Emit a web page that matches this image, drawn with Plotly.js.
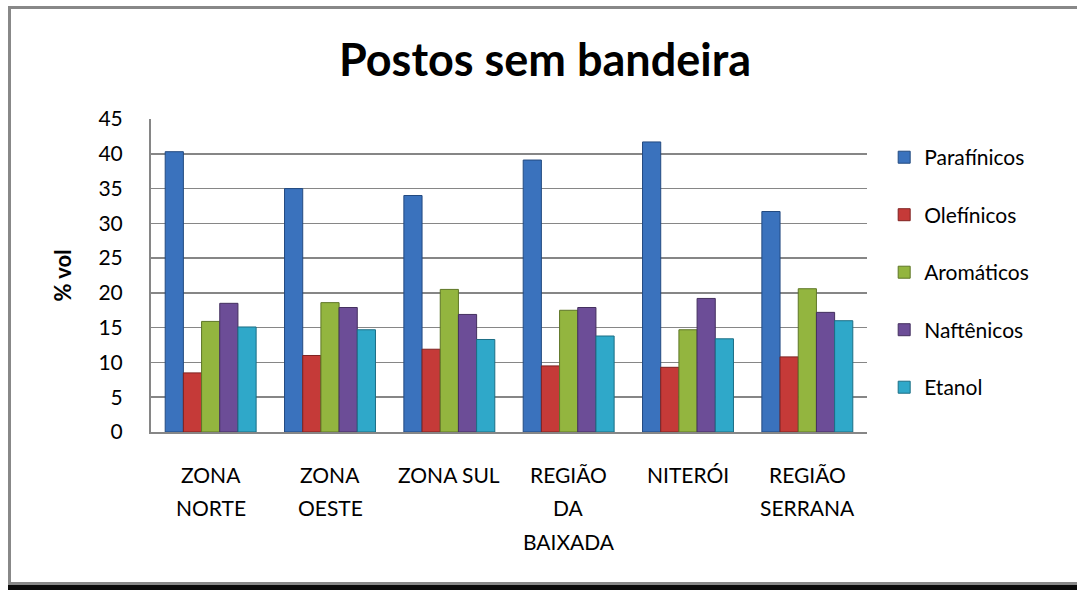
<!DOCTYPE html>
<html>
<head>
<meta charset="utf-8">
<script src="https://cdn.plot.ly/plotly-3.0.1.min.js"></script>
<style>
  html, body { margin:0; padding:0; width:1077px; height:590px; overflow:hidden; background:#fff; }
  #frame { position:absolute; left:8px; top:6px; width:1100px; border:3px solid #888; box-sizing:border-box; height:579px; }
  #shadow { position:absolute; left:8px; top:585px; width:1100px; height:10px; background:#0a0a0a; }
  #chart { position:absolute; left:0; top:0; width:1077px; height:590px; }
</style>
</head>
<body>
<div id="frame"></div>
<div id="shadow"></div>
<div id="chart"></div>
<script>
const categories = ["ZONA NORTE", "ZONA OESTE", "ZONA SUL", "REGIÃO DA BAIXADA", "NITERÓI", "REGIÃO SERRANA"];
const tickLines = [["ZONA", "NORTE"], ["ZONA", "OESTE"], ["ZONA SUL"], ["REGIÃO", "DA", "BAIXADA"], ["NITERÓI"], ["REGIÃO", "SERRANA"]];
const seriesNames = ["Parafínicos", "Olefínicos", "Aromáticos", "Naftênicos", "Etanol"];
const parafinicos = [40.3, 35.0, 34.0, 39.1, 41.7, 31.7];
const olefinicos  = [8.5, 11.0, 11.9, 9.5, 9.3, 10.8];
const aromaticos  = [15.9, 18.6, 20.5, 17.5, 14.7, 20.6];
const naftenicos  = [18.5, 17.9, 16.9, 17.9, 19.2, 17.2];
const etanol      = [15.1, 14.7, 13.3, 13.8, 13.4, 16.0];
const yTicks = [0, 5, 10, 15, 20, 25, 30, 35, 40, 45];

const seriesValues = [parafinicos, olefinicos, aromaticos, naftenicos, etanol];
const fills = ["#3a72bd", "#c53a38", "#93b53f", "#6c4d97", "#2fa8c9"];
const edges = ["#234a80", "#7f2221", "#5e7626", "#44305f", "#1c6e85"];

const font = "Lato, 'Open Sans', sans-serif";

const traces = seriesValues.map((vals, i) => ({
  type: "bar",
  name: seriesNames[i],
  x: categories,
  y: vals,
  legendgroup: "g" + i,
  marker: { color: fills[i], line: { color: edges[i], width: 1 } },
  hoverinfo: "x+y+name"
}));

const annotations = [];
tickLines.forEach((lines, ci) => {
  lines.forEach((ln, li) => {
    annotations.push({
      x: categories[ci], xref: "x", y: 0, yref: "paper",
      yanchor: "middle", xanchor: "center",
      yshift: -(42 + li * 33.5),
      text: ln, showarrow: false,
      font: { family: font, size: 21, color: "#000" }
    });
  });
});

const layout = {
  width: 1077, height: 590,
  paper_bgcolor: "rgba(0,0,0,0)",
  plot_bgcolor: "rgba(0,0,0,0)",
  margin: { l: 151, r: 210, t: 119, b: 158 },
  title: {
    text: "<b>Postos sem bandeira</b>",
    font: { family: font, size: 45, color: "#000" },
    x: 545 / 1077, xanchor: "center",
    y: 1 - 60 / 590, yanchor: "middle", yref: "container"
  },
  barmode: "group",
  bargap: 0.238,
  bargroupgap: 0,
  xaxis: {
    type: "category",
    showticklabels: false,
    showline: true, linecolor: "#868686", linewidth: 2,
    showgrid: false, ticks: ""
  },
  yaxis: {
    range: [0, 45],
    tickvals: yTicks,
    ticktext: yTicks.map(String),
    tickfont: { family: font, size: 21, color: "#000" },
    ticklabelstandoff: 22,
    showline: true, linecolor: "#868686", linewidth: 2,
    showgrid: true, gridcolor: "#868686", gridwidth: 1.5,
    zeroline: false, ticks: "",
    title: { text: "<b>% vol</b>", font: { family: font, size: 22, color: "#000" }, standoff: 21 }
  },
  legend: {
    x: 1.024, xanchor: "left",
    y: 1 - (151 - 119 - 14) / 312, yanchor: "top",
    font: { family: font, size: 21, color: "#000" },
    tracegroupgap: 27.2,
    traceorder: "grouped",
    itemwidth: 30,
    bgcolor: "rgba(0,0,0,0)"
  },
  annotations: annotations,
  showlegend: true
};

Plotly.newPlot("chart", traces, layout, { displayModeBar: false, staticPlot: true });
</script>
</body>
</html>
